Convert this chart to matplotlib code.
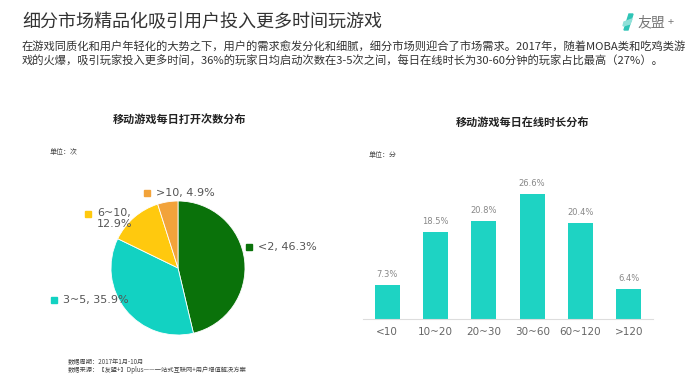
import matplotlib.pyplot as plt
from matplotlib.patches import Polygon

plt.rcParams['font.family'] = ['Noto Sans CJK SC', 'DejaVu Sans']

pie_labels = ['<2', '3~5', '6~10', '>10']
pie_values = [46.3, 35.9, 12.9, 4.9]
pie_colors = ['#0a720a', '#12d2c2', '#ffc90e', '#f2a33a']

bar_cats = ['<10', '10~20', '20~30', '30~60', '60~120', '>120']
bar_values = [7.3, 18.5, 20.8, 26.6, 20.4, 6.4]
bar_color = '#1ed3c3'

W, H = 700, 390
fig = plt.figure(figsize=(7, 3.9), dpi=100)


def px(x, y):
    return x / W, 1 - y / H


# header
fig.text(*px(22, 22), '细分市场精品化吸引用户投入更多时间玩游戏', fontsize=13,
         color='#333333', va='center', ha='left')
fig.text(*px(22, 47), '在游戏同质化和用户年轻化的大势之下，用户的需求愈发分化和细腻，细分市场则迎合了市场需求。2017年，随着MOBA类和吃鸡类游',
         fontsize=8.1, color='#333333', va='center', ha='left')
fig.text(*px(22, 61), '戏的火爆，吸引玩家投入更多时间，36%的玩家日均启动次数在3-5次之间，每日在线时长为30-60分钟的玩家占比最高（27%）。',
         fontsize=8.1, color='#333333', va='center', ha='left')

# logo
fig.patches.append(Polygon([px(629, 14), px(633, 14), px(628, 30), px(624, 30)],
                           closed=True, transform=fig.transFigure, color='#2ec4b6'))
fig.patches.append(Polygon([px(624, 22), px(632, 19), px(630, 24), px(623, 26)],
                           closed=True, transform=fig.transFigure, color='#8fe0d8'))
fig.text(*px(637, 22), '友盟', fontsize=10, color='#777777', va='center', ha='left')
fig.text(*px(668, 22), '+', fontsize=8, color='#777777', va='center', ha='left')

# pie chart
fig.text(*px(180, 119), '移动游戏每日打开次数分布', fontsize=8, fontweight='bold',
         color='#222222', ha='center', va='center')
fig.text(*px(50, 152), '单位：次', fontsize=5, color='#444444', ha='left', va='center')

ax1 = fig.add_axes([111 / W, 55 / H, 134 / W, 134 / H])
ax1.pie(pie_values, colors=pie_colors, startangle=90, counterclock=False,
        wedgeprops=dict(linewidth=0.6, edgecolor='white'))
ax1.set_xlim(-1, 1)
ax1.set_ylim(-1, 1)
ax1.set_aspect('equal')
ax1.axis('off')

label_pos = [(249, 247), (54, 300), (88, 214), (147, 193)]
for (lx, ly), lab, val, col in zip(label_pos, pie_labels, pie_values, pie_colors):
    fig.patches.append(Polygon([px(lx - 3, ly - 3), px(lx + 3, ly - 3), px(lx + 3, ly + 3), px(lx - 3, ly + 3)],
                               closed=True, transform=fig.transFigure, color=col))
    if lab == '6~10':
        txt = f'{lab},\n{val}%'
        fig.text(*px(lx + 9, ly - 6), txt, fontsize=8, color='#555555', ha='left', va='top',
                 linespacing=1.1, family='DejaVu Sans')
    else:
        fig.text(*px(lx + 9, ly), f'{lab}, {val}%', fontsize=8, color='#555555',
                 ha='left', va='center', family='DejaVu Sans')

fig.text(*px(68, 362), '数据周期：2017年1月-10月', fontsize=4.5, color='#444444', ha='left', va='center')
fig.text(*px(68, 370), '数据来源：【友盟+】Dplus——一站式互联网+用户增值解决方案', fontsize=4.5,
         color='#444444', ha='left', va='center')

# bar chart
fig.text(*px(523, 122), '移动游戏每日在线时长分布', fontsize=8, fontweight='bold',
         color='#222222', ha='center', va='center')
fig.text(*px(369, 155), '单位：分', fontsize=5, color='#444444', ha='left', va='center')

ax2 = fig.add_axes([363 / W, 71 / H, 290 / W, 141 / H])
x = range(len(bar_cats))
bars = ax2.bar(x, bar_values, width=0.52, color=bar_color)
for b, v in zip(bars, bar_values):
    ax2.text(b.get_x() + b.get_width() / 2, v + 1.3, f'{v}%', ha='center', va='bottom',
             fontsize=6, color='#888888', family='DejaVu Sans')
ax2.set_xlim(-0.5, 5.5)
ax2.set_ylim(0, 30)
ax2.set_xticks(list(x))
ax2.set_xticklabels(bar_cats, fontsize=7.5, color='#666666', family='DejaVu Sans')
ax2.tick_params(axis='x', length=0, pad=6)
ax2.set_yticks([])
for s in ['top', 'right', 'left']:
    ax2.spines[s].set_visible(False)
ax2.spines['bottom'].set_color('#dddddd')
ax2.spines['bottom'].set_linewidth(0.8)

fig.savefig('out.png', dpi=100)
